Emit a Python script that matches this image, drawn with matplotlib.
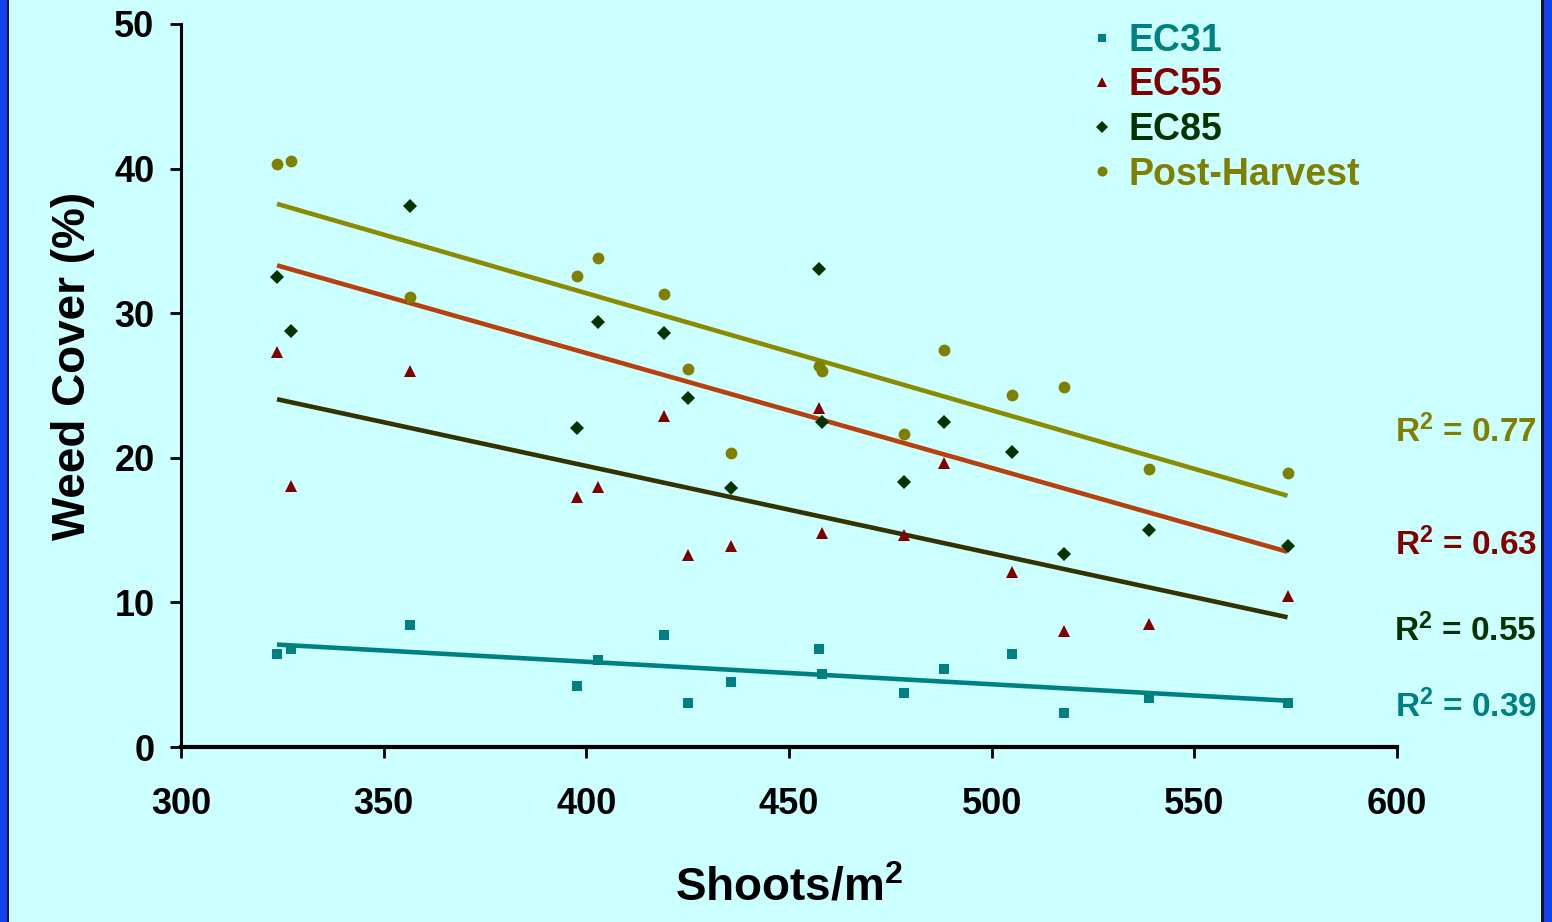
import numpy as np
import matplotlib
matplotlib.use("Agg")
import matplotlib.pyplot as plt
from matplotlib.patches import Rectangle

plt.rcParams['font.family'] = ['Liberation Sans', 'DejaVu Sans']
plt.rcParams['font.weight'] = 'bold'
plt.rcParams['mathtext.fontset'] = 'custom'
plt.rcParams['mathtext.rm'] = 'Liberation Sans:bold'
plt.rcParams['mathtext.bf'] = 'Liberation Sans:bold'
plt.rcParams['mathtext.it'] = 'Liberation Sans:bold'

# shoots per m2 (same plots for every growth stage)
shoots = [323.7, 327.2, 356.6, 397.6, 402.8, 419.2, 425.2, 435.8,
          457.4, 458.2, 478.3, 488.3, 505.1, 517.9, 538.8, 573.0]

ec31 = [6.43, 6.78, 8.44, 4.22, 6.02, 7.75, 3.04, 4.50,
        6.78, 5.05, 3.73, 5.39, 6.43, 2.35, 3.39, 3.04]
ec55 = [27.32, 18.05, 26.00, 17.29, 17.98, 22.89, 13.28, 13.90,
        23.44, 14.80, 14.66, 19.64, 12.10, 8.02, 8.51, 10.44]
ec85 = [32.50, 28.77, 37.43, 22.06, 29.41, 28.65, 24.14, 17.89,
        33.04, 22.50, 18.31, 22.50, 20.40, 13.37, 15.01, 13.92]
post_harvest = [40.32, 40.53, 31.10, 32.59, 33.82, 31.31, 26.14, 20.31,
                26.37, 26.02, 21.63, 27.46, 24.36, 24.92, 19.20, 18.97]

labels = ['EC31', 'EC55', 'EC85', 'Post-Harvest']
r2_text = ['0.39', '0.55', '0.63', '0.77']

bg = '#CCFFFF'
# (values, marker, marker colour, trend line colour, marker size)
series = [
    (ec31, 's', '#008080', '#008080', 7.2),
    (ec55, '^', '#800000', '#333300', 9),
    (ec85, 'D', '#003300', '#B8400C', 7),
    (post_harvest, 'o', '#808000', '#8B8B00', 8.5),
]
r2_color = ['#008080', '#003300', '#800000', '#808000']
r2_y = [2.07, 7.33, 13.28, 21.1]

fig = plt.figure(figsize=(15.52, 9.22), dpi=100, facecolor=bg)
ax = fig.add_axes([0.1166, 0.1898, 0.7835, 0.7842])
ax.set_facecolor(bg)

x = np.array(shoots)
handles = []
for (vals, mk, mc, lc, ms), lab in zip(series, labels):
    y = np.array(vals)
    h, = ax.plot(x, y, linestyle='none', marker=mk, color=mc, markersize=ms,
                 markeredgewidth=0, label=lab, zorder=3)
    handles.append(h)
    slope, icpt = np.polyfit(x, y, 1)
    xs = np.array([x.min(), x.max()])
    ax.plot(xs, slope * xs + icpt, color=lc, lw=3.3, solid_capstyle='butt', zorder=2)

for r2, ry, rc in zip(r2_text, r2_y, r2_color):
    ax.text(1.115, ry, f'R$^{{2}}$ = {r2}', transform=ax.get_yaxis_transform(),
            ha='right', va='baseline', color=rc, fontsize=24, fontweight='bold')

ax.set_xlim(300, 600)
ax.set_ylim(0, 50)
ax.set_xticks(range(300, 601, 50))
ax.set_yticks(range(0, 51, 10))
ax.spines['top'].set_visible(False)
ax.spines['right'].set_visible(False)
ax.spines['left'].set_linewidth(2.2)
ax.spines['bottom'].set_linewidth(3)
ax.tick_params(axis='both', labelsize=26, width=2, length=8, direction='out')
ax.tick_params(axis='x', pad=21)
ax.tick_params(axis='y', pad=11)
for t in ax.get_xticklabels() + ax.get_yticklabels():
    t.set_fontweight('bold')

ax.set_xlabel('Shoots/m$^{2}$', fontsize=33, fontweight='bold')
ax.set_ylabel('Weed Cover (%)', fontsize=33, fontweight='bold')
ax.yaxis.set_label_coords(-0.071, 0.527)
ax.xaxis.set_label_coords(0.5, -0.165)

leg = fig.legend(handles=handles, loc='upper left', bbox_to_anchor=(0.681, 1.012),
                 frameon=False, fontsize=27, handlelength=0.6, handletextpad=0.4,
                 labelspacing=0.23, markerscale=0.85)
for txt, (vals, mk, mc, lc, ms) in zip(leg.get_texts(), series):
    txt.set_color(mc)
    txt.set_fontweight('bold')

# blue frame at left and right edges
fig.patches.append(Rectangle((0, 0), 7 / 1552, 1, transform=fig.transFigure,
                             facecolor='#1144EE', edgecolor='none'))
fig.patches.append(Rectangle((7 / 1552, 0), 2 / 1552, 1, transform=fig.transFigure,
                             facecolor='#111133', edgecolor='none'))
fig.patches.append(Rectangle((1544 / 1552, 0), 8 / 1552, 1, transform=fig.transFigure,
                             facecolor='#1144EE', edgecolor='none'))
fig.patches.append(Rectangle((1541 / 1552, 0), 3 / 1552, 1, transform=fig.transFigure,
                             facecolor='#111133', edgecolor='none'))

fig.savefig('out.png', dpi=100, facecolor=bg)
